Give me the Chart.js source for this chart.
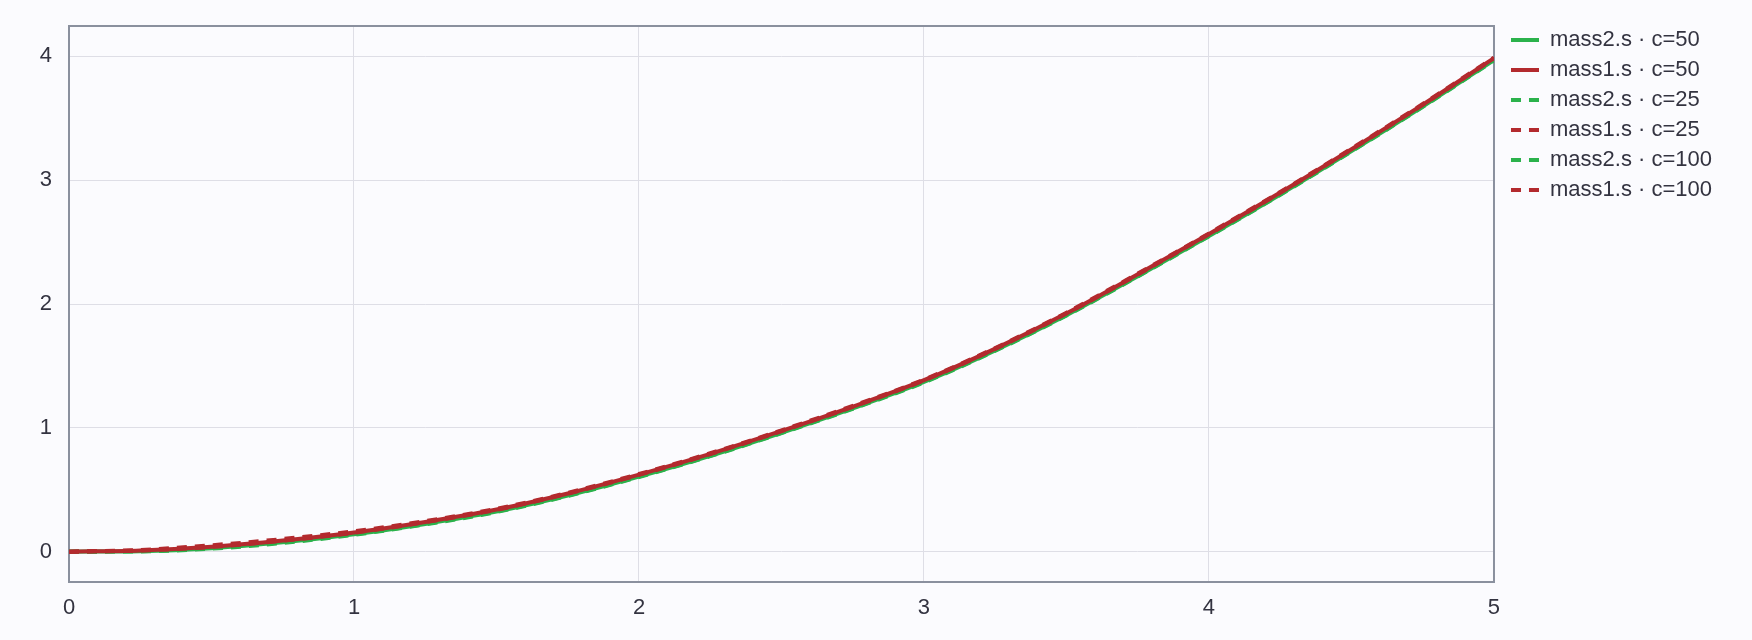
<!DOCTYPE html>
<html>
<head>
<meta charset="utf-8">
<script src="https://cdn.jsdelivr.net/npm/chart.js@4/dist/chart.umd.min.js"></script>
<style>
  html, body { margin: 0; padding: 0; background: #fbfbfe; }
  #wrap { width: 1752px; height: 640px; }
</style>
</head>
<body>
<div id="wrap"><canvas id="chart"></canvas></div>
<script>
// -----------------------------
// DATA
// -----------------------------
const times = [0, 0.25, 0.5, 0.75, 1, 1.25, 1.5, 1.75, 2, 2.25, 2.5, 2.75, 3, 3.25, 3.5, 3.75, 4, 4.25, 4.5, 4.75, 5];

const mass2_c50  = [0, 0.004, 0.028, 0.075, 0.140, 0.224, 0.324, 0.453, 0.606, 0.774, 0.960, 1.157, 1.370, 1.625, 1.910, 2.225, 2.550, 2.885, 3.235, 3.595, 3.970];
const mass1_c50  = [0, 0.010, 0.040, 0.090, 0.155, 0.240, 0.340, 0.470, 0.622, 0.790, 0.975, 1.172, 1.385, 1.640, 1.925, 2.240, 2.565, 2.900, 3.250, 3.610, 3.985];
const mass2_c25  = [0, 0.002, 0.024, 0.070, 0.136, 0.220, 0.320, 0.450, 0.603, 0.771, 0.957, 1.154, 1.367, 1.622, 1.907, 2.222, 2.547, 2.882, 3.232, 3.592, 3.967];
const mass1_c25  = [0, 0.014, 0.052, 0.102, 0.165, 0.247, 0.346, 0.475, 0.627, 0.795, 0.980, 1.177, 1.390, 1.645, 1.930, 2.245, 2.570, 2.905, 3.255, 3.615, 3.990];
const mass2_c100 = [0, 0.006, 0.031, 0.079, 0.144, 0.228, 0.328, 0.457, 0.610, 0.778, 0.964, 1.161, 1.374, 1.629, 1.914, 2.229, 2.554, 2.889, 3.239, 3.599, 3.974];
const mass1_c100 = [0, 0.009, 0.038, 0.088, 0.153, 0.238, 0.338, 0.468, 0.620, 0.788, 0.973, 1.170, 1.383, 1.638, 1.923, 2.238, 2.563, 2.898, 3.248, 3.608, 3.983];

const seriesLabels = ["mass2.s · c=50", "mass1.s · c=50", "mass2.s · c=25", "mass1.s · c=25", "mass2.s · c=100", "mass1.s · c=100"];
const xTicks = [0, 1, 2, 3, 4, 5];
const yTicks = [0, 1, 2, 3, 4];

const GREEN = "#2bb24c";
const RED = "#b32a2e";

function points(ys) {
    return times.map((t, i) => ({ x: t, y: ys[i] }));
}

function makeSet(label, ys, color, dashed, order) {
    return {
        label: label,
        data: points(ys),
        borderColor: color,
        backgroundColor: color,
        borderWidth: 4,
        borderDash: dashed ? [10, 8] : [],
        pointRadius: 0,
        pointHoverRadius: 0,
        cubicInterpolationMode: "monotone",
        fill: false,
        order: order
    };
}

// -----------------------------
// PLUGINS
// -----------------------------
const bgPlugin = {
    id: "bg",
    beforeDraw(chart) {
        const c = chart.ctx;
        c.save();
        c.fillStyle = "#fbfbfe";
        c.fillRect(0, 0, chart.width, chart.height);
        c.restore();
    }
};

const framePlugin = {
    id: "frame",
    beforeDatasetsDraw(chart) {
        const a = chart.chartArea;
        const c = chart.ctx;
        c.save();
        c.strokeStyle = "#8a909e";
        c.lineWidth = 2;
        c.strokeRect(a.left, a.top, a.right - a.left, a.bottom - a.top);
        c.restore();
    }
};

// legend items: take dash and width from the line, not the points
function legendLabels(chart) {
    const items = Chart.defaults.plugins.legend.labels.generateLabels(chart);
    return items.map(item => {
        const ds = chart.data.datasets[item.datasetIndex];
        item.lineDash = ds.borderDash;
        item.lineWidth = ds.borderWidth;
        item.strokeStyle = ds.borderColor;
        item.fillStyle = ds.borderColor;
        item.pointStyle = "line";
        return item;
    });
}

// -----------------------------
// CHART
// -----------------------------
Chart.defaults.font.family = "'Liberation Sans', Arial, sans-serif";
Chart.defaults.font.size = 22;
Chart.defaults.color = "#333340";

new Chart(document.getElementById("chart").getContext("2d"), {
    type: "line",
    data: {
        datasets: [
            makeSet(seriesLabels[0], mass2_c50, GREEN, false, 1),
            makeSet(seriesLabels[1], mass1_c50, RED, false, 0),
            makeSet(seriesLabels[2], mass2_c25, GREEN, true, 1),
            makeSet(seriesLabels[3], mass1_c25, RED, true, 0),
            makeSet(seriesLabels[4], mass2_c100, GREEN, true, 1),
            makeSet(seriesLabels[5], mass1_c100, RED, true, 0)
        ]
    },
    options: {
        responsive: true,
        maintainAspectRatio: false,
        animation: false,
        layout: { padding: { top: 21, right: 30, bottom: 19, left: 0 } },
        plugins: {
            tooltip: { enabled: false },
            legend: {
                position: "right",
                align: "start",
                labels: {
                    usePointStyle: true,
                    pointStyle: "line",
                    pointStyleWidth: 28,
                    padding: 8,
                    color: "#333340",
                    font: { size: 22 },
                    generateLabels: legendLabels,
                    sort: (a, b) => a.datasetIndex - b.datasetIndex
                }
            }
        },
        scales: {
            x: {
                type: "linear",
                min: 0,
                max: 5,
                afterBuildTicks: s => { s.ticks = xTicks.map(v => ({ value: v })); },
                ticks: { padding: 13, maxRotation: 0 },
                grid: { color: "#dedee6", lineWidth: 1, drawTicks: false },
                border: { display: false },
                afterFit: s => { s.height = 39; s.paddingLeft = 0; s.paddingRight = 0; }
            },
            x2: {
                position: "top",
                display: true,
                grid: { display: false, drawTicks: false },
                ticks: { display: false },
                border: { display: false },
                afterFit: s => { s.height = 5; }
            },
            y: {
                type: "linear",
                min: -0.245,
                max: 4.245,
                afterBuildTicks: s => { s.ticks = yTicks.map(v => ({ value: v })); },
                ticks: { padding: 17 },
                grid: { color: "#dedee6", lineWidth: 1, drawTicks: false },
                border: { display: false },
                afterFit: s => { s.width = 69; s.paddingTop = 0; s.paddingBottom = 0; }
            },
            y2: {
                position: "right",
                display: true,
                grid: { display: false, drawTicks: false },
                ticks: { display: false },
                border: { display: false },
                afterFit: s => { s.width = 9; }
            }
        }
    },
    plugins: [bgPlugin, framePlugin]
});
</script>
</body>
</html>
